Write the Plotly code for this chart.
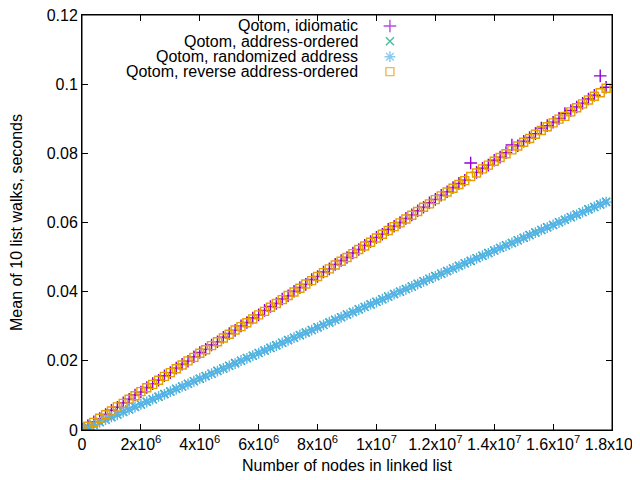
import plotly.graph_objects as go

nodes = [k * 200000 for k in range(90)]

idiomatic = [0.0002, 0.0013, 0.0024, 0.0033, 0.0045, 0.0057, 0.0066, 0.0079, 0.0089, 0.0101,
             0.0110, 0.0123, 0.0134, 0.0144, 0.0157, 0.0166, 0.0179, 0.0190, 0.0199, 0.0212,
             0.0224, 0.0233, 0.0246, 0.0255, 0.0268, 0.0279, 0.0288, 0.0301, 0.0311, 0.0324,
             0.0333, 0.0346, 0.0357, 0.0366, 0.0379, 0.0388, 0.0401, 0.0412, 0.0421, 0.0435,
             0.0444, 0.0457, 0.0466, 0.0479, 0.0490, 0.0499, 0.0512, 0.0522, 0.0534, 0.0545,
             0.0557, 0.0566, 0.0580, 0.0589, 0.0600, 0.0612, 0.0622, 0.0634, 0.0644, 0.0657,
             0.0667, 0.0679, 0.0689, 0.0701, 0.0713, 0.0722, 0.0772, 0.0745, 0.0757, 0.0766,
             0.0780, 0.0789, 0.0802, 0.0824, 0.0822, 0.0835, 0.0846, 0.0857, 0.0873, 0.0880,
             0.0890, 0.0901, 0.0915, 0.0924, 0.0934, 0.0945, 0.0957, 0.0968, 0.1024, 0.0991]

address_ordered = [0.0001, 0.0008, 0.0015, 0.0023, 0.0030, 0.0037, 0.0045, 0.0052, 0.0059, 0.0067,
                   0.0074, 0.0082, 0.0089, 0.0096, 0.0104, 0.0111, 0.0119, 0.0126, 0.0134, 0.0141,
                   0.0148, 0.0156, 0.0163, 0.0171, 0.0178, 0.0186, 0.0194, 0.0200, 0.0208, 0.0215,
                   0.0223, 0.0230, 0.0237, 0.0245, 0.0252, 0.0260, 0.0267, 0.0274, 0.0282, 0.0289,
                   0.0297, 0.0304, 0.0311, 0.0319, 0.0326, 0.0334, 0.0341, 0.0349, 0.0356, 0.0363,
                   0.0371, 0.0378, 0.0386, 0.0393, 0.0400, 0.0408, 0.0415, 0.0423, 0.0430, 0.0437,
                   0.0445, 0.0452, 0.0460, 0.0467, 0.0475, 0.0482, 0.0489, 0.0497, 0.0504, 0.0512,
                   0.0519, 0.0526, 0.0534, 0.0541, 0.0549, 0.0556, 0.0564, 0.0571, 0.0578, 0.0586,
                   0.0593, 0.0601, 0.0608, 0.0615, 0.0623, 0.0630, 0.0638, 0.0645, 0.0652, 0.0660]

randomized = [0.0001, 0.0007, 0.0015, 0.0022, 0.0030, 0.0038, 0.0044, 0.0052, 0.0060, 0.0066,
              0.0074, 0.0081, 0.0089, 0.0097, 0.0103, 0.0111, 0.0118, 0.0126, 0.0133, 0.0141,
              0.0149, 0.0155, 0.0163, 0.0170, 0.0178, 0.0185, 0.0192, 0.0201, 0.0207, 0.0215,
              0.0222, 0.0230, 0.0238, 0.0244, 0.0252, 0.0259, 0.0267, 0.0275, 0.0281, 0.0289,
              0.0296, 0.0304, 0.0312, 0.0318, 0.0326, 0.0333, 0.0341, 0.0348, 0.0356, 0.0364,
              0.0370, 0.0378, 0.0385, 0.0393, 0.0401, 0.0407, 0.0415, 0.0422, 0.0430, 0.0438,
              0.0444, 0.0452, 0.0459, 0.0467, 0.0474, 0.0482, 0.0490, 0.0496, 0.0504, 0.0511,
              0.0519, 0.0527, 0.0533, 0.0541, 0.0548, 0.0556, 0.0563, 0.0571, 0.0579, 0.0585,
              0.0593, 0.0600, 0.0608, 0.0616, 0.0622, 0.0630, 0.0637, 0.0645, 0.0653, 0.0659]

reverse_ordered = [0.0001, 0.0011, 0.0022, 0.0034, 0.0044, 0.0055, 0.0067, 0.0077, 0.0089, 0.0099,
                   0.0111, 0.0122, 0.0132, 0.0144, 0.0155, 0.0166, 0.0177, 0.0188, 0.0200, 0.0210,
                   0.0222, 0.0232, 0.0244, 0.0255, 0.0266, 0.0277, 0.0289, 0.0299, 0.0310, 0.0321,
                   0.0333, 0.0343, 0.0355, 0.0366, 0.0377, 0.0389, 0.0399, 0.0410, 0.0422, 0.0432,
                   0.0444, 0.0455, 0.0466, 0.0477, 0.0488, 0.0499, 0.0510, 0.0522, 0.0532, 0.0543,
                   0.0555, 0.0566, 0.0577, 0.0588, 0.0599, 0.0610, 0.0621, 0.0632, 0.0644, 0.0654,
                   0.0666, 0.0677, 0.0688, 0.0699, 0.0710, 0.0721, 0.0733, 0.0743, 0.0755, 0.0766,
                   0.0777, 0.0788, 0.0799, 0.0810, 0.0821, 0.0832, 0.0843, 0.0855, 0.0866, 0.0877,
                   0.0888, 0.0899, 0.0907, 0.0920, 0.0932, 0.0943, 0.0954, 0.0965, 0.0975, 0.0988]

series_names = ["Qotom, idiomatic", "Qotom, address-ordered",
                "Qotom, randomized address", "Qotom, reverse address-ordered"]
series_values = [idiomatic, address_ordered, randomized, reverse_ordered]
colors = ["#9400D3", "#009E73", "#56B4E9", "#E69F00"]
symbols = ["cross-thin-open", "x-thin-open", "asterisk-open", "square-open"]
sizes = [9, 8, 9, 8]

x_range = [0, 1.8e7]
y_range = [0, 0.12]
x_tickvals = [0, 2e6, 4e6, 6e6, 8e6, 1e7, 1.2e7, 1.4e7, 1.6e7, 1.8e7]
x_ticktext = ["0", "2x10<sup>6</sup>", "4x10<sup>6</sup>", "6x10<sup>6</sup>", "8x10<sup>6</sup>",
              "1x10<sup>7</sup>", "1.2x10<sup>7</sup>", "1.4x10<sup>7</sup>",
              "1.6x10<sup>7</sup>", "1.8x10<sup>7</sup>"]
y_tickvals = [0, 0.02, 0.04, 0.06, 0.08, 0.1, 0.12]
y_ticktext = ["0", "0.02", "0.04", "0.06", "0.08", "0.1", "0.12"]

FONT = "Liberation Sans, Arial, sans-serif"
fig = go.Figure()
for name, vals, c, s, sz in zip(series_names, series_values, colors, symbols, sizes):
    fig.add_trace(go.Scatter(x=nodes, y=vals, mode="markers", name=name, showlegend=False,
                             marker=dict(symbol=s, size=sz, color=c,
                                         line=dict(color=c, width=1.4))))

# legend (gnuplot style: text right-aligned, sample to the right)
leg_y = [0.9735, 0.937, 0.8995, 0.8635]
leg_x = 0.581
for name, ly in zip(series_names, leg_y):
    fig.add_annotation(x=0.5245, y=ly, xref="paper", yref="paper", text=name,
                       showarrow=False, xanchor="right", yanchor="middle",
                       font=dict(family=FONT, size=16, color="black"))
# legend samples placed at paper-fraction positions of the axes
fig.add_trace(go.Scatter(
    x=[x_range[0] + leg_x * (x_range[1] - x_range[0])] * 4,
    y=[y_range[0] + f * (y_range[1] - y_range[0]) for f in leg_y],
    mode="markers", showlegend=False, hoverinfo="skip",
    marker=dict(symbol=symbols, size=sizes, color=colors,
                line=dict(color=colors, width=1.4))))

# plot border box
fig.add_shape(type="rect", xref="paper", yref="paper", x0=0, y0=0, x1=1, y1=1,
              line=dict(color="black", width=1), layer="above")

axis_common = dict(showline=True, linecolor="black", linewidth=1, mirror="allticks",
                   ticks="inside", ticklen=6, tickcolor="black", showgrid=False,
                   zeroline=False, ticklabeloverflow="allow", automargin=False,
                   tickfont=dict(family=FONT, size=16, color="black"))
fig.update_layout(
    width=640, height=480,
    margin=dict(l=74, r=36, t=7, b=58),
    paper_bgcolor="white", plot_bgcolor="white",
    font=dict(family=FONT, size=16, color="black"),
    xaxis=dict(range=x_range, tickvals=x_tickvals, ticktext=x_ticktext,
               title=dict(text="Number of nodes in linked list", standoff=7,
                          font=dict(family=FONT, size=16)), **axis_common),
    yaxis=dict(range=y_range, tickvals=y_tickvals, ticktext=y_ticktext,
               title=dict(text="Mean of 10 list walks, seconds", standoff=25,
                          font=dict(family=FONT, size=16)), **axis_common),
)
fig.write_html("out.html")
